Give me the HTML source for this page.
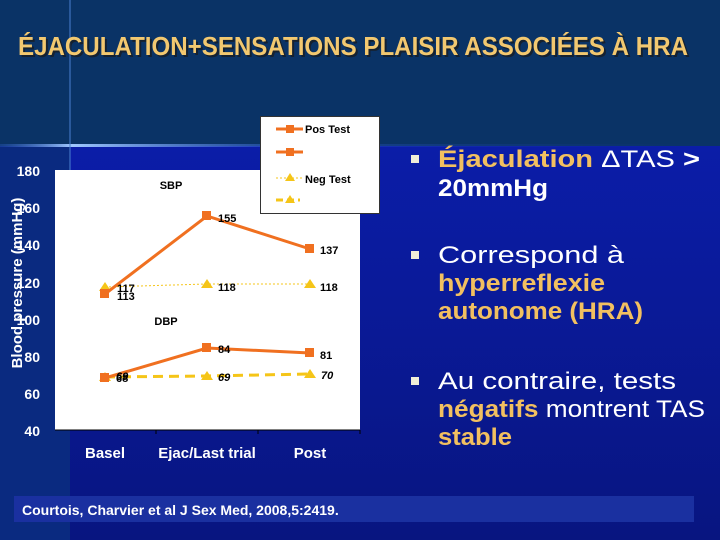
<!DOCTYPE html>
<html><head><meta charset="utf-8"><style>
html,body{margin:0;padding:0;background:#0a2f66}
svg{display:block}
text{font-family:"Liberation Sans",Arial,sans-serif}
</style></head><body>
<svg width="720" height="540" viewBox="0 0 720 540" xmlns="http://www.w3.org/2000/svg">
<defs>
<linearGradient id="bg" x1="0" y1="0" x2="0" y2="1">
<stop offset="0" stop-color="#0b1da8"/><stop offset="1" stop-color="#081580"/>
</linearGradient>
<linearGradient id="hl" x1="0" y1="0" x2="1" y2="0">
<stop offset="0" stop-color="#3060d0" stop-opacity="0.3"/><stop offset="0.1" stop-color="#a0c8ff"/><stop offset="0.4" stop-color="#3060d0" stop-opacity="0.4"/><stop offset="1" stop-color="#1030a0" stop-opacity="0"/>
</linearGradient>
</defs>
<rect width="720" height="540" fill="#0a3366"/>
<rect x="0" y="146" width="720" height="394" fill="url(#bg)"/>
<rect x="0" y="146" width="70" height="394" fill="#0a2a80"/>
<rect x="0" y="144" width="720" height="3" fill="url(#hl)"/>
<rect x="69" y="0" width="2" height="200" fill="#4a80d0" opacity="0.5"/>
<text x="18" y="55" font-size="26" font-weight="bold" fill="#1a1a1a" textLength="670" lengthAdjust="spacingAndGlyphs" opacity="0.7" transform="translate(2,2)">ÉJACULATION+SENSATIONS PLAISIR ASSOCIÉES À HRA</text>
<text x="18" y="55" font-size="26" font-weight="bold" fill="#f2c870" textLength="670" lengthAdjust="spacingAndGlyphs">ÉJACULATION+SENSATIONS PLAISIR ASSOCIÉES À HRA</text>

<!-- plot -->
<rect x="55" y="170" width="305" height="260" fill="#fff"/>
<line x1="55" y1="430" x2="360" y2="430" stroke="#000" stroke-width="1"/>
<g stroke="#000"><line x1="156" y1="430" x2="156" y2="434"/><line x1="258" y1="430" x2="258" y2="434"/><line x1="360" y1="430" x2="360" y2="434"/></g>
<g font-size="14" font-weight="bold" fill="#fff" text-anchor="end">
<text x="40" y="176">180</text><text x="40" y="213">160</text><text x="40" y="250">140</text><text x="40" y="288">120</text><text x="40" y="325">100</text><text x="40" y="362">80</text><text x="40" y="399">60</text><text x="40" y="436">40</text>
</g>
<text transform="translate(22,283) rotate(-90)" font-size="15" font-weight="bold" fill="#fff" text-anchor="middle">Blood pressure (mmHg)</text>
<g font-size="15" font-weight="bold" fill="#fff" text-anchor="middle">
<text x="105" y="458">Basel</text><text x="207" y="458">Ejac/Last trial</text><text x="310" y="458">Post</text>
</g>
<text x="171" y="189" font-size="11" font-weight="bold" fill="#000" text-anchor="middle">SBP</text>
<text x="166" y="325" font-size="11" font-weight="bold" fill="#000" text-anchor="middle">DBP</text>
<polyline points="105,287 207,284 310,284" fill="none" stroke="#f5c518" stroke-width="1" stroke-dasharray="2,2"/>
<polyline points="105,377 207,376 310,374" fill="none" stroke="#f5c518" stroke-width="3" stroke-dasharray="10,6"/>
<g fill="#f5c518">
<polygon points="105,282 111,291 99,291"/><polygon points="207,279 213,288 201,288"/><polygon points="310,279 316,288 304,288"/>
<polygon points="105,372 111,381 99,381"/><polygon points="207,371 213,380 201,380"/><polygon points="310,369 316,378 304,378"/>
</g>
<polyline points="105,294 207,216 310,249" fill="none" stroke="#f07020" stroke-width="3"/>
<polyline points="105,378 207,348 310,353" fill="none" stroke="#f07020" stroke-width="3"/>
<g fill="#f07020">
<rect x="100" y="289" width="9" height="9"/><rect x="202" y="211" width="9" height="9"/><rect x="305" y="244" width="9" height="9"/>
<rect x="100" y="373" width="9" height="9"/><rect x="202" y="343" width="9" height="9"/><rect x="305" y="348" width="9" height="9"/>
</g>
<g font-size="11" font-weight="bold" fill="#000">
<text x="117" y="292">117</text><text x="117" y="300">113</text>
<text x="218" y="222">155</text><text x="320" y="254">137</text>
<text x="218" y="291">118</text><text x="320" y="291">118</text>
<text x="218" y="353">84</text><text x="320" y="359">81</text>
<text x="116" y="382">68</text><text x="116" y="380" font-style="italic">69</text>
<text x="218" y="381" font-style="italic">69</text><text x="321" y="379" font-style="italic">70</text>
</g>
<rect x="260.5" y="116.5" width="119" height="97" fill="#fff" stroke="#333"/>
<line x1="276" y1="129" x2="303" y2="129" stroke="#f07020" stroke-width="3"/><rect x="286" y="125" width="8" height="8" fill="#f07020"/>
<text x="305" y="133" font-size="11" font-weight="bold" fill="#000">Pos Test</text>
<line x1="276" y1="152" x2="303" y2="152" stroke="#f07020" stroke-width="3"/><rect x="286" y="148" width="8" height="8" fill="#f07020"/>
<line x1="276" y1="178" x2="303" y2="178" stroke="#f5c518" stroke-width="1" stroke-dasharray="2,2"/><polygon points="290,173 295,181 285,181" fill="#f5c518"/>
<text x="305" y="183" font-size="11" font-weight="bold" fill="#000">Neg Test</text>
<line x1="276" y1="200" x2="300" y2="200" stroke="#f5c518" stroke-width="3" stroke-dasharray="7,4"/><polygon points="290,195 295,203 285,203" fill="#f5c518"/>
<g fill="#f0eed8"><rect x="411" y="155" width="8" height="8"/><rect x="411" y="251" width="8" height="8"/><rect x="411" y="377" width="8" height="8"/></g>
<g font-size="24" fill="#fff" lengthAdjust="spacingAndGlyphs">
<text x="438" y="167" textLength="262" lengthAdjust="spacingAndGlyphs"><tspan font-weight="bold" fill="#f2c060">Éjaculation</tspan> ΔTAS <tspan font-weight="bold">&gt;</tspan></text>
<text x="438" y="196" font-weight="bold" textLength="110" lengthAdjust="spacingAndGlyphs">20mmHg</text>
<text x="438" y="263" textLength="186" lengthAdjust="spacingAndGlyphs">Correspond à</text>
<text x="438" y="291" font-weight="bold" fill="#f2c060" textLength="167" lengthAdjust="spacingAndGlyphs">hyperreflexie</text>
<text x="438" y="319" font-weight="bold" fill="#f2c060" textLength="205" lengthAdjust="spacingAndGlyphs">autonome (HRA)</text>
<text x="438" y="389" textLength="238" lengthAdjust="spacingAndGlyphs">Au contraire, tests</text>
<text x="438" y="417" textLength="267" lengthAdjust="spacingAndGlyphs"><tspan font-weight="bold" fill="#f2c060">négatifs</tspan> montrent TAS</text>
<text x="438" y="445" font-weight="bold" fill="#f2c060" textLength="74" lengthAdjust="spacingAndGlyphs">stable</text>
</g>
<rect x="14" y="496" width="680" height="26" fill="#1a30a0"/>
<text x="22" y="515" font-size="14" font-weight="bold" fill="#fff">Courtois, Charvier et al J Sex Med, 2008,5:2419.</text>
</svg>
</body></html>
